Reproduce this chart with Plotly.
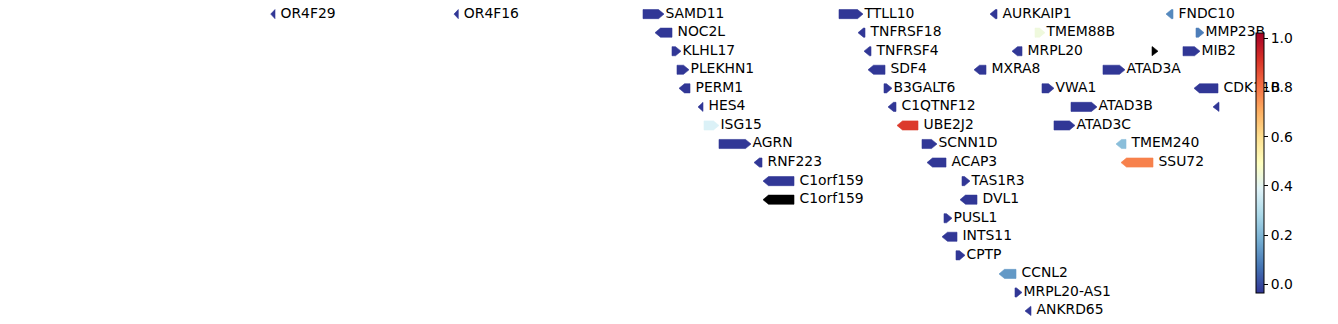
import math
import plotly.graph_objects as go
from plotly.colors import get_colorscale, sample_colorscale

# ---- data (positions in track units, rows top->bottom) ----
gene_names = [
    "OR4F29", "OR4F16", "SAMD11", "TTLL10", "AURKAIP1", "FNDC10",
    "NOC2L", "TNFRSF18", "TMEM88B", "MMP23B",
    "KLHL17", "TNFRSF4", "MRPL20", "", "MIB2",
    "PLEKHN1", "SDF4", "MXRA8", "ATAD3A",
    "PERM1", "B3GALT6", "VWA1", "CDK11B",
    "HES4", "C1QTNF12", "ATAD3B", "",
    "ISG15", "UBE2J2", "ATAD3C",
    "AGRN", "SCNN1D", "TMEM240",
    "RNF223", "ACAP3", "SSU72",
    "C1orf159", "TAS1R3",
    "C1orf159", "DVL1",
    "PUSL1",
    "INTS11",
    "CPTP",
    "CCNL2",
    "MRPL20-AS1",
    "ANKRD65",
]
gene_start = [
    270.7, 454, 643, 839, 990, 1166,
    655, 858, 1035, 1196,
    672, 864, 1012, 1152, 1183,
    677, 868, 974, 1103,
    679, 884, 1042, 1194,
    698, 888, 1071, 1213,
    704, 897, 1054,
    719, 922, 1116,
    754, 927, 1121,
    763, 962,
    763, 960,
    944,
    942,
    956,
    999,
    1015,
    1025,
]
gene_end = [
    275, 458.3, 664, 863, 997, 1173,
    672, 865, 1045, 1204,
    681, 871, 1022, 1158, 1200,
    689, 885, 986, 1125,
    690, 892, 1054, 1218,
    703, 896, 1097, 1219,
    719, 918, 1075,
    751, 937, 1126,
    762, 946, 1153,
    794, 970,
    794, 977,
    952,
    957,
    965,
    1016,
    1022,
    1031,
]
gene_strand = [
    "-", "-", "+", "+", "-", "-",
    "-", "-", "+", "+",
    "+", "-", "-", "+", "+",
    "+", "-", "-", "+",
    "-", "+", "+", "-",
    "-", "-", "+", "-",
    "+", "-", "+",
    "+", "+", "-",
    "-", "-", "-",
    "-", "+",
    "-", "-",
    "+",
    "-",
    "+",
    "-",
    "+",
    "-",
]
gene_row = [
    0, 0, 0, 0, 0, 0,
    1, 1, 1, 1,
    2, 2, 2, 2, 2,
    3, 3, 3, 3,
    4, 4, 4, 4,
    5, 5, 5, 5,
    6, 6, 6,
    7, 7, 7,
    8, 8, 8,
    9, 9,
    10, 10,
    11,
    12,
    13,
    14,
    15,
    16,
]
N = -0.03
gene_value = [
    N, N, N, N, N, 0.11,
    N, N, 0.44, 0.09,
    N, N, N, None, N,
    N, N, N, N,
    N, N, N, N,
    N, N, N, N,
    0.38, 0.90, N,
    N, N, 0.22,
    N, N, 0.78,
    N, N,
    None, N,
    N,
    N,
    N,
    0.14,
    N,
    N,
]

cmin, cmax = -0.0325, 1.023
colorbar_ticks = [0.0, 0.2, 0.4, 0.6, 0.8, 1.0]

# ---- style ----
HEAD = 5.5
HALF = 0.245
FONT = dict(family="DejaVu Sans", size=13.9, color="black")
scale = get_colorscale("RdYlBu_r")


def color_for(v):
    if v is None or (isinstance(v, float) and math.isnan(v)):
        return "black"
    t = (v - cmin) / (cmax - cmin)
    t = min(max(t, 0.0), 1.0)
    return sample_colorscale(scale, [t])[0]


fig = go.Figure()

lab_x, lab_y, lab_t = [], [], []
for name, s, e, st, r, v in zip(gene_names, gene_start, gene_end,
                                 gene_strand, gene_row, gene_value):
    L = e - s
    h = min(HEAD, L)
    if st == "+":
        xs = [s, e - h, e, e - h, s, s]
        ys = [r - HALF, r - HALF, r, r + HALF, r + HALF, r - HALF]
        lx = e + 1.5
    else:
        xs = [e, s + h, s, s + h, e, e]
        ys = [r - HALF, r - HALF, r, r + HALF, r + HALF, r - HALF]
        lx = e + 5.5
    c = color_for(v)
    fig.add_trace(go.Scatter(
        x=xs, y=ys, mode="lines", fill="toself", fillcolor=c,
        line=dict(color=c, width=0.6), hoverinfo="skip", showlegend=False,
    ))
    if name:
        lab_x.append(lx)
        lab_y.append(r)
        lab_t.append(name)

fig.add_trace(go.Scatter(
    x=lab_x, y=lab_y, text=lab_t, mode="text", textposition="middle right",
    textfont=FONT, hoverinfo="skip", showlegend=False, cliponaxis=False,
))

# colorbar carrier
fig.add_trace(go.Scatter(
    x=[-100, -100], y=[0, 0], mode="markers",
    marker=dict(size=1, color=[cmin, cmax], colorscale="RdYlBu_r",
                cmin=cmin, cmax=cmax, showscale=True,
                colorbar=dict(
                    x=1255.5 / 1338, xanchor="left", xpad=0,
                    y=1 - 162.5 / 324, yanchor="middle", ypad=0,
                    len=260, lenmode="pixels", thickness=8,
                    outlinewidth=1, outlinecolor="black",
                    ticks="outside", ticklen=4, tickwidth=1, tickcolor="black",
                    tickvals=colorbar_ticks, tickformat=".1f",
                    tickfont=FONT,
                )),
    hoverinfo="skip", showlegend=False,
))

fig.update_layout(
    width=1338, height=324,
    margin=dict(l=0, r=0, t=0, b=0),
    paper_bgcolor="white", plot_bgcolor="white",
    xaxis=dict(visible=False, range=[0, 1338], domain=[0, 1]),
    yaxis=dict(visible=False, range=[16.70, -0.76], domain=[0, 1]),
    showlegend=False,
)

fig.write_html("out.html")
